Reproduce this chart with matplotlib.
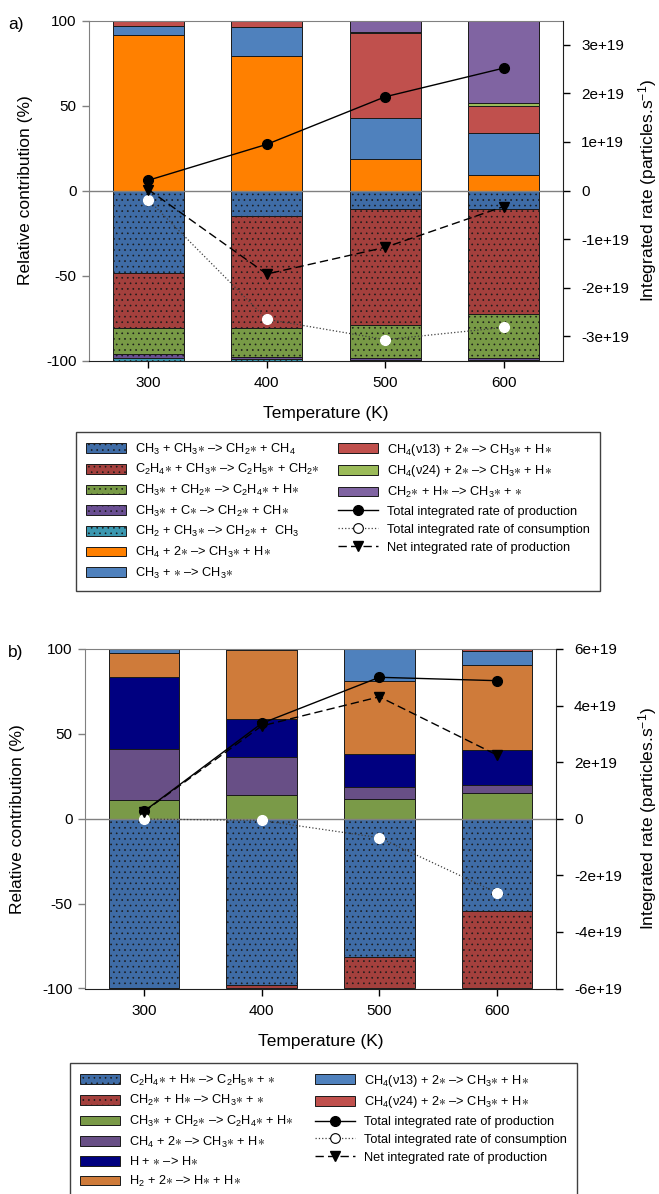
import numpy as np
import matplotlib.pyplot as plt
from matplotlib.patches import Patch
from matplotlib.lines import Line2D
from matplotlib.ticker import FuncFormatter

plt.rcParams['font.family'] = ['Liberation Sans', 'DejaVu Sans']
plt.rcParams['mathtext.fontset'] = 'custom'
plt.rcParams['mathtext.rm'] = 'Liberation Sans'
plt.rcParams['mathtext.it'] = 'Liberation Sans:italic'
plt.rcParams['mathtext.default'] = 'regular'
plt.rcParams['axes.unicode_minus'] = False
plt.rcParams['hatch.linewidth'] = 0.45

temps = ['300', '400', '500', '600']

# ---- panel a) relative contributions (%) ----
# consumption (negative side), stacked from 0 downwards
a_ch3_ch3 = [48.6, 14.9, 10.6, 10.8]
a_c2h4_ch3 = [32.2, 65.7, 68.8, 61.6]
a_ch3_ch2 = [15.1, 17.6, 19.4, 26.4]
a_ch3_c = [2.9, 1.2, 0.7, 0.7]
a_ch2_ch3 = [1.2, 0.6, 0.5, 0.5]
# production (positive side), stacked from 0 upwards
a_ch4_2s = [91.7, 79.2, 18.3, 9.4]
a_ch3_s = [4.8, 17.1, 24.1, 24.6]
a_v13 = [3.5, 3.7, 50.1, 15.5]
a_v24 = [0.0, 0.0, 0.8, 2.2]
a_ch2_h = [0.0, 0.0, 6.7, 48.3]
# integrated rates (particles/s)
a_prod = [0.21e19, 0.95e19, 1.93e19, 2.52e19]
a_cons = [-0.19e19, -2.65e19, -3.07e19, -2.82e19]
a_net = [0.02e19, -1.72e19, -1.17e19, -0.33e19]

# ---- panel b) ----
b_c2h4_h = [99.7, 98.0, 81.7, 54.2]
b_ch2_h = [0.3, 2.0, 18.3, 45.8]
b_ch3_ch2 = [10.8, 13.8, 11.4, 15.4]
b_ch4_2s = [30.5, 22.6, 7.3, 4.7]
b_h_s = [42.4, 22.2, 19.3, 20.2]
b_h2_2s = [13.7, 40.7, 43.3, 50.1]
b_v13 = [2.6, 0.3, 18.7, 8.3]
b_v24 = [0.0, 0.4, 0.0, 1.3]
b_prod = [0.26e19, 3.37e19, 5.00e19, 4.88e19]
b_cons = [-0.01e19, -0.06e19, -0.67e19, -2.62e19]
b_net = [0.25e19, 3.28e19, 4.31e19, 2.25e19]

# colours
BLUE_D = '#3F6CA6'
RED_D = '#A4403D'
GREEN_D = '#789A46'
PURPLE_D = '#6A4F92'
TEAL_D = '#3B98B0'
ORANGE = '#FF8000'
BLUE = '#4F81BD'
RED = '#C0504D'
GREEN = '#9BBB59'
PURPLE = '#8064A2'
GREEN_B = '#7A9A48'
PURPLE_B = '#684F86'
NAVY = '#000080'
ORANGE_B = '#CF7B3A'

HATCH = '...'
LEG_FS = 9.2

W, H = 659, 1194
fig = plt.figure(figsize=(W / 100, H / 100), dpi=100)


def fig_rect(left, right, top, bottom):
    return [left / W, 1 - bottom / H, (right - left) / W, (bottom - top) / H]


def sci(v, pos):
    if v == 0:
        return '0'
    return f'{v:.0e}'


def draw_panel(rect, neg, pos, lines, rlim, rticks, tag, lab_x):
    ax = fig.add_axes(fig_rect(*rect))
    x = np.arange(len(temps))
    bottom = np.zeros(len(temps))
    for vals, col in neg:
        vals = np.array(vals)
        ax.bar(x, -vals, 0.6, bottom=bottom, color=col, edgecolor='#1a1a1a',
               linewidth=0.7, hatch=HATCH, zorder=2)
        bottom -= vals
    bottom = np.zeros(len(temps))
    for vals, col in pos:
        vals = np.array(vals)
        ax.bar(x, vals, 0.6, bottom=bottom, color=col, edgecolor='#1a1a1a',
               linewidth=0.7, zorder=2)
        bottom += vals
    ax.axhline(0, color='#808080', lw=1.0, zorder=3)
    ax.set_xlim(-0.5, 3.5)
    ax.set_ylim(-100, 100)
    ax.set_yticks([-100, -50, 0, 50, 100])
    ax.set_xticks(x)
    ax.set_xticklabels(temps)
    ax.tick_params(axis='y', direction='out', length=5, width=1, color='#808080',
                   labelsize=11, pad=4)
    ax.tick_params(axis='x', direction='out', length=5, width=1, labelsize=11, pad=6)
    ax.spines['left'].set_color('#808080')
    ax.spines['top'].set_color('#808080')
    ax.spines['right'].set_visible(False)
    ax.spines['bottom'].set_color('#202020')
    ax.set_ylabel('Relative contribution (%)', fontsize=12.5)
    ax.yaxis.set_label_coords((lab_x - rect[0]) / (rect[1] - rect[0]), 0.5)
    ax.set_xlabel('Temperature (K)', fontsize=12.5, labelpad=12)

    ax2 = ax.twinx()
    prod, cons, net = lines
    ax2.plot(x, prod, '-', color='black', lw=1.0, marker='o', ms=7,
             mfc='black', mec='black', zorder=5)
    ax2.plot(x, cons, ':', color='#404040', lw=0.9, marker='o', ms=7,
             mfc='white', mec='white', zorder=5)
    ax2.plot(x, net, '--', color='black', lw=1.0, dashes=(6, 3), marker='v', ms=7,
             mfc='black', mec='black', zorder=5)
    ax2.set_ylim(-rlim, rlim)
    ax2.set_yticks(rticks)
    ax2.yaxis.set_major_formatter(FuncFormatter(sci))
    ax2.tick_params(axis='y', direction='out', length=5, width=1, labelsize=11, pad=8)
    for s in ['left', 'top', 'bottom']:
        ax2.spines[s].set_visible(False)
    ax2.spines['right'].set_color('#202020')
    ax2.set_ylabel('Integrated rate (particles.s$^{-1}$)', fontsize=12.5)
    ax2.yaxis.set_label_coords((636 - rect[0]) / (rect[1] - rect[0]), 0.5)
    fig.text(8 / W, 1 - (rect[2] + 4) / H, tag, fontsize=12.5, ha='left', va='center')
    return ax


def make_handles(entries):
    handles = []
    for kind, col, label in entries:
        if kind == 'dot':
            handles.append(Patch(facecolor=col, edgecolor='#1a1a1a', hatch=HATCH,
                                 linewidth=0.7, label=label))
        elif kind == 'bar':
            handles.append(Patch(facecolor=col, edgecolor='#1a1a1a', linewidth=0.7,
                                 label=label))
        elif kind == 'prod':
            handles.append(Line2D([], [], color='black', lw=1.0, marker='o', ms=7,
                                  label=label))
        elif kind == 'cons':
            handles.append(Line2D([], [], color='#404040', ls=':', lw=0.9, marker='o',
                                  ms=7, mfc='white', mec='black', mew=0.8, label=label))
        else:
            handles.append(Line2D([], [], color='black', ls='--', dashes=(6, 3), lw=1.0,
                                  marker='v', ms=7, label=label))
    return handles


def make_legend(entries, top, left, right, spacing):
    leg = fig.legend(handles=make_handles(entries), ncol=2, loc='upper left',
                     bbox_to_anchor=(left / W, 1 - top / H, (right - left) / W, 0),
                     mode='expand', borderaxespad=0, fontsize=LEG_FS, fancybox=False,
                     edgecolor='#404040', framealpha=1, handlelength=3.1,
                     handleheight=0.8, labelspacing=spacing, borderpad=0.8,
                     columnspacing=0.5, handletextpad=0.7)
    leg.get_frame().set_linewidth(1.0)
    return leg


draw_panel((89, 563, 20.5, 360.5),
           [(a_ch3_ch3, BLUE_D), (a_c2h4_ch3, RED_D), (a_ch3_ch2, GREEN_D),
            (a_ch3_c, PURPLE_D), (a_ch2_ch3, TEAL_D)],
           [(a_ch4_2s, ORANGE), (a_ch3_s, BLUE), (a_v13, RED), (a_v24, GREEN),
            (a_ch2_h, PURPLE)],
           (a_prod, a_cons, a_net), 3.5e19, [-3e19, -2e19, -1e19, 0, 1e19, 2e19, 3e19],
           'a)', 33)

draw_panel((85, 556, 649, 988.5),
           [(b_c2h4_h, BLUE_D), (b_ch2_h, RED_D)],
           [(b_ch3_ch2, GREEN_B), (b_ch4_2s, PURPLE_B), (b_h_s, NAVY), (b_h2_2s, ORANGE_B),
            (b_v13, BLUE), (b_v24, RED)],
           (b_prod, b_cons, b_net), 6e19, [-6e19, -4e19, -2e19, 0, 2e19, 4e19, 6e19],
           'b)', 25)

ST = r'${\ast}$'
legend_a = [
    ('dot', BLUE_D, 'CH$_3$ + CH$_3$' + ST + ' –> CH$_2$' + ST + ' + CH$_4$'),
    ('dot', RED_D, 'C$_2$H$_4$' + ST + ' + CH$_3$' + ST + ' –> C$_2$H$_5$' + ST + ' + CH$_2$' + ST),
    ('dot', GREEN_D, 'CH$_3$' + ST + ' + CH$_2$' + ST + ' –> C$_2$H$_4$' + ST + ' + H' + ST),
    ('dot', PURPLE_D, 'CH$_3$' + ST + ' + C' + ST + ' –> CH$_2$' + ST + ' + CH' + ST),
    ('dot', TEAL_D, 'CH$_2$ + CH$_3$' + ST + ' –> CH$_2$' + ST + ' +  CH$_3$'),
    ('bar', ORANGE, 'CH$_4$ + 2' + ST + ' –> CH$_3$' + ST + ' + H' + ST),
    ('bar', BLUE, 'CH$_3$ + ' + ST + ' –> CH$_3$' + ST),
    ('bar', RED, 'CH$_4$(ν13) + 2' + ST + ' –> CH$_3$' + ST + ' + H' + ST),
    ('bar', GREEN, 'CH$_4$(ν24) + 2' + ST + ' –> CH$_3$' + ST + ' + H' + ST),
    ('bar', PURPLE, 'CH$_2$' + ST + ' + H' + ST + ' –> CH$_3$' + ST + ' + ' + ST),
    ('prod', None, 'Total integrated rate of production'),
    ('cons', None, 'Total integrated rate of consumption'),
    ('net', None, 'Net integrated rate of production'),
]
legend_b = [
    ('dot', BLUE_D, 'C$_2$H$_4$' + ST + ' + H' + ST + ' –> C$_2$H$_5$' + ST + ' + ' + ST),
    ('dot', RED_D, 'CH$_2$' + ST + ' + H' + ST + ' –> CH$_3$' + ST + ' + ' + ST),
    ('bar', GREEN_B, 'CH$_3$' + ST + ' + CH$_2$' + ST + ' –> C$_2$H$_4$' + ST + ' + H' + ST),
    ('bar', PURPLE_B, 'CH$_4$ + 2' + ST + ' –> CH$_3$' + ST + ' + H' + ST),
    ('bar', NAVY, 'H + ' + ST + ' –> H' + ST),
    ('bar', ORANGE_B, 'H$_2$ + 2' + ST + ' –> H' + ST + ' + H' + ST),
    ('bar', BLUE, 'CH$_4$(ν13) + 2' + ST + ' –> CH$_3$' + ST + ' + H' + ST),
    ('bar', RED, 'CH$_4$(ν24) + 2' + ST + ' –> CH$_3$' + ST + ' + H' + ST),
    ('prod', None, 'Total integrated rate of production'),
    ('cons', None, 'Total integrated rate of consumption'),
    ('net', None, 'Net integrated rate of production'),
]

# pick the row spacing so that legend a spans 431.5 -> 591 px like the reference
spacing = 0.45
for _ in range(4):
    leg = make_legend(legend_a, 431.5, 76, 600, spacing)
    fig.canvas.draw()
    height = leg.get_window_extent().height
    leg.remove()
    spacing += (159.5 - height) / 6 / (LEG_FS * 100 / 72)

make_legend(legend_a, 431.5, 76, 600, spacing)
make_legend(legend_b, 1062.5, 70, 577, spacing)

fig.savefig('out.png', dpi=100)
